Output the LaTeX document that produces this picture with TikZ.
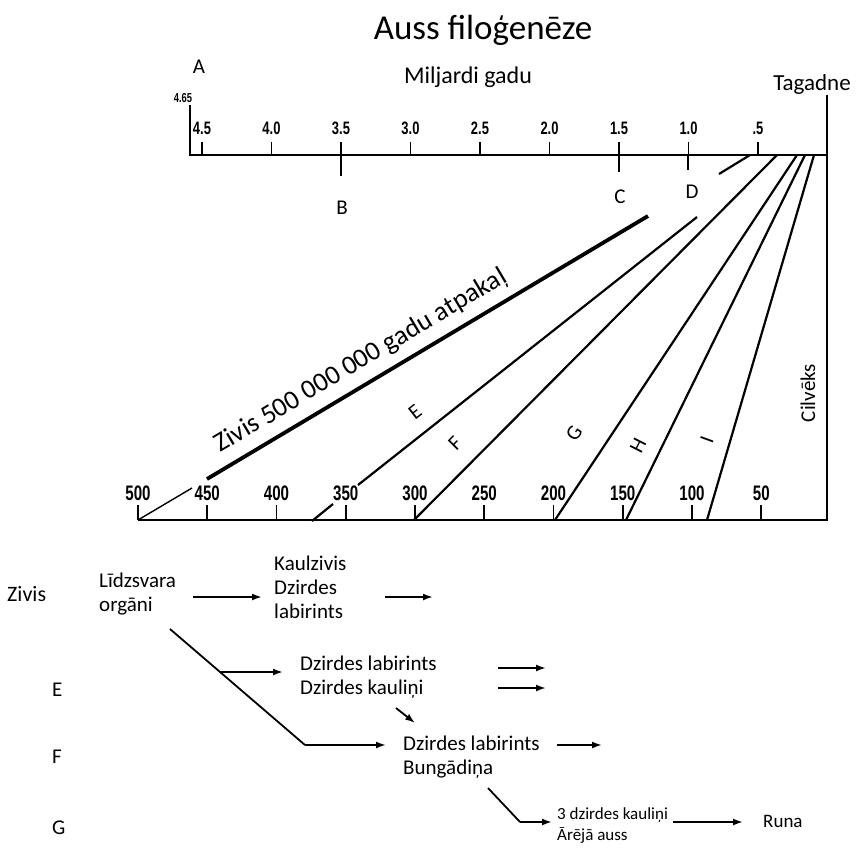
\documentclass[tikz,border=0pt]{standalone}
\usepackage{fontspec}
\usepackage{graphicx}
\setmainfont{Carlito}
\newfontfamily\axisfont{Liberation Sans}
\usetikzlibrary{arrows.meta}
\newcommand{\ax}[1]{\scalebox{0.72}[1]{#1}}

\begin{document}
\begin{tikzpicture}[x=1pt,y=-1pt]
    \tikzstyle{axis}=[line width=2.4pt]
    \tikzstyle{tick}=[line width=1.6pt]
    \tikzstyle{branch}=[line width=2.2pt]
    \tikzstyle{topnum}=[font=\axisfont\bfseries\fontsize{18}{18}\selectfont, inner sep=0pt]
    \tikzstyle{botnum}=[font=\axisfont\bfseries\fontsize{21}{21}\selectfont, inner sep=0pt]
    \tikzstyle{letter}=[font=\fontsize{21}{21}\selectfont, inner sep=0pt]
    \tikzstyle{txt}=[font=\fontsize{21}{24}\selectfont, inner sep=0pt, align=left, anchor=west]
    \tikzstyle{flow}=[-{Latex[length=10pt,width=7pt]}, line width=1.8pt]

    \useasboundingbox (0,0) rectangle (856,847);

    \node[font=\fontsize{35}{35}\selectfont] (title) at (483,30) {Auss filoģenēze};

    % scale in milliards of years
    \coordinate (tl) at (190,155);
    \coordinate (tr) at (827,155);
    \coordinate (br) at (827,520);
    \coordinate (bl) at (138,520);
    \draw[axis] (190,105) -- (tl) -- (tr);
    \draw[axis] (827,95) -- (br) -- (bl);
    \node[letter] (A) at (199,67) {A};
    \node[topnum, font=\axisfont\bfseries\fontsize{13}{13}\selectfont] (start) at (183,98) {\ax{4.65}};
    \node[letter, font=\fontsize{24}{24}\selectfont] (mg) at (468,77) {Miljardi gadu};
    \node[letter, font=\fontsize{23}{23}\selectfont] (now) at (812,84) {Tagadne};
    \foreach \v/\t [count=\i] in {4.5/4.5,4.0/4.0,3.5/3.5,3.0/3.0,2.5/2.5,2.0/2.0,1.5/1.5,1.0/1.0,0.5/.5}
    {
        \draw[tick] ({202+(4.5-\v)*139},142) -- ({202+(4.5-\v)*139},155);
        \node[topnum] (top\i) at ({202+(4.5-\v)*139},128) {\ax{\t}};
    }
    \draw[tick] (341,155) -- (341,176);
    \draw[tick] (619,155) -- (619,172);
    \draw[tick] (688,155) -- (688,170);
    \node[letter] (B) at (342,208) {B};
    \node[letter] (C) at (620,197) {C};
    \node[letter] (D) at (692,192) {D};

    % scale in millions of years
    \foreach \v [count=\i] in {500,450,...,50}
    {
        \draw[tick] ({138+(500-\v)*1.385},505) -- ({138+(500-\v)*1.385},520);
        \node[botnum] (bot\i) at ({138+(500-\v)*1.385},493) {\ax{\v}};
    }

    % branches
    \coordinate (z0) at (138,520);
    \coordinate (z1) at (192,488);
    \coordinate (z2) at (207,479);
    \coordinate (z3) at (648,216);
    \coordinate (z4) at (719,174);
    \coordinate (z5) at (750,155);
    \draw[branch, line width=1.4pt] (z0) -- (z1);
    \draw[branch, line width=3.8pt] (z2) -- (z3);
    \draw[branch] (z4) -- (z5);
    \coordinate (e0) at (312,521);
    \coordinate (e1) at (333,504);
    \coordinate (e2) at (358,485);
    \coordinate (e3) at (697,217);
    \draw[branch] (e0) -- (e1);
    \draw[branch] (e2) -- (e3);
    \coordinate (f0) at (414,520);
    \coordinate (f1) at (777,155);
    \coordinate (g0) at (555,520);
    \coordinate (g1) at (797,155);
    \coordinate (h0) at (626,520);
    \coordinate (h1) at (805,155);
    \coordinate (i0) at (707,520);
    \coordinate (i1) at (814,155);
    \draw[branch] (f0) -- (f1);
    \draw[branch] (g0) -- (g1);
    \draw[branch] (h0) -- (h1);
    \draw[branch] (i0) -- (i1);

    \node[letter, font=\fontsize{27}{27}\selectfont, rotate=30.8] (zivline) at (361,361) {Zivis 500 000 000 gadu atpakaļ};
    \node[letter, rotate=38] (E) at (415,412) {E};
    \node[letter, rotate=45] (F) at (455,443) {F};
    \node[letter, rotate=57] (G) at (574,433) {G};
    \node[letter, rotate=63] (H) at (638,446) {H};
    \node[letter, rotate=70] (I) at (707,440) {I};
    \node[letter, rotate=90] (man) at (808,393) {Cilvēks};

    % evolution of the ear
    \node[txt, font=\fontsize{22}{24}\selectfont] (zivis) at (7,594) {Zivis};
    \node[txt] (rowE) at (52,690) {E};
    \node[txt] (rowF) at (52,757) {F};
    \node[txt] (rowG) at (52,828) {G};
    \node[txt] (lidz) at (99,594) {Līdzsvara\\orgāni};
    \node[txt] (kaul) at (274,587) {Kaulzivis\\Dzirdes\\labirints};
    \node[txt] (dzE) at (300,677) {Dzirdes labirints\\Dzirdes kauliņi};
    \node[txt] (dzF) at (403,757) {Dzirdes labirints\\Bungādiņa};
    \node[txt, font=\fontsize{17}{21}\selectfont] (dzG) at (557,826) {3 dzirdes kauliņi\\Ārējā auss};
    \node[txt, font=\fontsize{19}{22}\selectfont] (runa) at (763,821) {Runa};

    \coordinate (a1) at (193,597);
    \coordinate (a2) at (262,597);
    \coordinate (a3) at (385,597);
    \coordinate (a4) at (433,597);
    \draw[flow] (a1) -- (a2);
    \draw[flow] (a3) -- (a4);
    \coordinate (d0) at (170,629);
    \coordinate (d1) at (305,745);
    \coordinate (d2) at (386,745);
    \coordinate (b0) at (221,672);
    \coordinate (b1) at (283,672);
    \draw[branch, line width=1.8pt] (d0) -- (d1);
    \draw[flow] (d1) -- (d2);
    \draw[flow] (b0) -- (b1);
    \coordinate (c1) at (498,668);
    \coordinate (c2) at (546,668);
    \coordinate (c3) at (498,688);
    \coordinate (c4) at (546,688);
    \draw[flow] (c1) -- (c2);
    \draw[flow] (c3) -- (c4);
    \coordinate (s1) at (396,708);
    \coordinate (s2) at (415,723);
    \draw[flow] (s1) -- (s2);
    \coordinate (k1) at (557,745);
    \coordinate (k2) at (602,745);
    \draw[flow] (k1) -- (k2);
    \coordinate (g2) at (488,788);
    \coordinate (g3) at (520,822);
    \coordinate (g4) at (552,822);
    \draw[branch, line width=1.8pt] (g2) -- (g3);
    \draw[flow] (g3) -- (g4);
    \coordinate (r1) at (673,822);
    \coordinate (r2) at (743,822);
    \draw[flow] (r1) -- (r2);
\end{tikzpicture}
\end{document}
